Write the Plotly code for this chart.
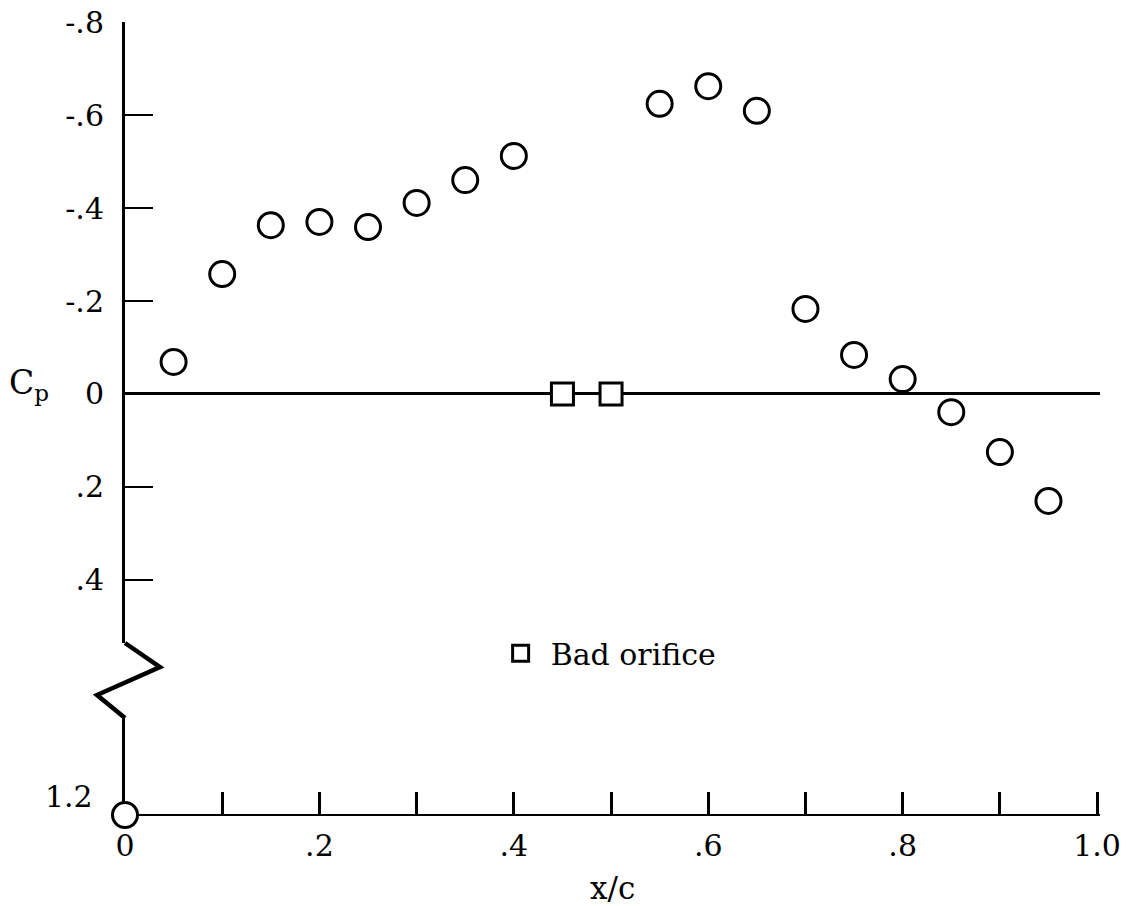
import plotly.graph_objects as go

# ---- data ----
x_circ = [0.05, 0.10, 0.15, 0.20, 0.25, 0.30, 0.35, 0.40, 0.55, 0.60, 0.65, 0.70, 0.75, 0.80, 0.85, 0.90, 0.95]
cp_circ = [-0.069, -0.258, -0.363, -0.370, -0.359, -0.411, -0.460, -0.512, -0.624, -0.662, -0.609,
           -0.183, -0.084, -0.032, 0.039, 0.125, 0.230]
x_stag = [0.0]
cp_stag = [1.2]
x_bad = [0.45, 0.50]
cp_bad = [0.0, 0.0]

x_tickvals = [0.0, 0.2, 0.4, 0.6, 0.8, 1.0]
x_ticktext = ["0", ".2", ".4", ".6", ".8", "1.0"]
x_minor_step = 0.1
y_tickvals = [-0.8, -0.6, -0.4, -0.2, 0.0, 0.2, 0.4]
y_ticktext = ["-.8", "-.6", "-.4", "-.2", "0", ".2", ".4"]

FONT = "DejaVu Serif"
circ_marker = dict(symbol="circle", size=25, color="white", line=dict(color="black", width=3))

fig = go.Figure()
fig.add_trace(go.Scatter(x=x_circ, y=cp_circ, mode="markers", marker=circ_marker,
                         xaxis="x", yaxis="y", showlegend=False, cliponaxis=False))
fig.add_trace(go.Scatter(x=x_stag, y=cp_stag, mode="markers", marker=circ_marker,
                         xaxis="x", yaxis="y2", showlegend=False, cliponaxis=False))
fig.add_trace(go.Scatter(x=x_bad, y=cp_bad, mode="markers", name="Bad orifice",
                         marker=dict(symbol="square", size=22, color="white",
                                     line=dict(color="black", width=3)),
                         xaxis="x", yaxis="y", showlegend=True, cliponaxis=False))

tickfont = dict(family=FONT, size=30, color="black")

fig.update_layout(
    width=1130, height=906,
    margin=dict(l=125, r=30, t=22, b=91, autoexpand=False),
    paper_bgcolor="white", plot_bgcolor="white",
    font=dict(family=FONT, color="black"),
    xaxis=dict(range=[0, 1.003], anchor="free", position=0, automargin=False,
               showline=True, linecolor="black", linewidth=2,
               ticks="inside", ticklen=22, tickwidth=2.5, tickcolor="black",
               tickvals=x_tickvals, ticktext=x_ticktext, tickfont=tickfont,
               minor=dict(dtick=x_minor_step, tick0=0, ticks="inside", ticklen=22,
                          tickwidth=2.5, tickcolor="black", showgrid=False),
               ticklabelstandoff=4,
               showgrid=False, zeroline=False, layer="below traces"),
    yaxis=dict(domain=[0.2169, 1.0], range=[0.5355, -0.8], anchor="x", automargin=False,
               showline=True, linecolor="black", linewidth=3,
               ticks="inside", ticklen=28, tickwidth=2, tickcolor="black",
               tickvals=y_tickvals, ticktext=y_ticktext, tickfont=tickfont,
               ticklabelstandoff=12,
               showgrid=False, zeroline=True, zerolinecolor="black", zerolinewidth=3,
               layer="below traces"),
    yaxis2=dict(domain=[0.0, 0.1223], range=[1.2, 0.9914], anchor="x", automargin=False,
                showline=True, linecolor="black", linewidth=3,
                ticks="", showticklabels=False, showgrid=False, zeroline=False,
                layer="below traces"),
    legend=dict(x=0.375, y=0.204, xanchor="left", yanchor="middle",
                bgcolor="rgba(0,0,0,0)", font=dict(family=FONT, size=30, color="black"),
                itemwidth=50),
    shapes=[dict(type="path", xref="paper", yref="paper",
                 path="M 0 0.2169 L 0.0359 0.1866 L -0.0287 0.1513 L 0 0.1223",
                 line=dict(color="black", width=4.5))],
    annotations=[
        dict(text="C<sub>p</sub>", xref="paper", yref="paper", x=-0.0985, y=0.5423,
             xanchor="center", yanchor="middle", showarrow=False,
             font=dict(family=FONT, size=33, color="black")),
        dict(text="x/c", xref="paper", yref="paper", x=0.4995, y=-0.0921,
             xanchor="center", yanchor="middle", showarrow=False,
             font=dict(family=FONT, size=31, color="black")),
        dict(text="1.2", xref="paper", yref="y2", x=-0.0308, y=1.2, yshift=18,
             xanchor="right", yanchor="middle", showarrow=False,
             font=dict(family=FONT, size=30, color="black")),
    ],
)

fig.write_html("out.html")
